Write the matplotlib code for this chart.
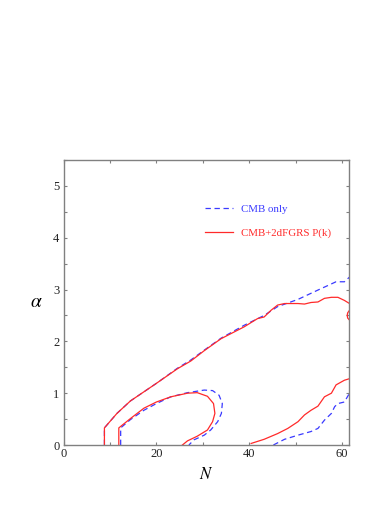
import matplotlib
matplotlib.use("Agg")
import matplotlib.pyplot as plt
from matplotlib.ticker import MultipleLocator

plt.rcParams["font.family"] = ["Liberation Serif", "DejaVu Serif"]
plt.rcParams["mathtext.fontset"] = "stix"

# CMB only (blue dashed)
cmb_outer_n = [8.8, 8.8, 11.5, 14.4, 20.0, 24.5, 27.4, 30.3, 33.9, 38.9, 43.2, 46.1,
               50.5, 54.8, 57.0, 58.7, 60.5, 61.6]
cmb_outer_a = [0.0, 0.33, 0.61, 0.85, 1.19, 1.48, 1.64, 1.83, 2.06, 2.31, 2.50, 2.67,
               2.81, 2.99, 3.08, 3.15, 3.15, 3.24]
cmb_inner_n = [12.3, 12.3, 14.4, 17.3, 20.0, 23.1, 26.7, 30.3, 32.1, 33.5, 34.2, 34.0,
               33.2, 31.7, 30.3, 28.1, 27.0]
cmb_inner_a = [0.0, 0.33, 0.49, 0.67, 0.80, 0.93, 1.01, 1.06, 1.05, 0.96, 0.80, 0.61,
               0.45, 0.29, 0.19, 0.10, 0.0]
cmb_low_n = [45.2, 47.6, 50.5, 53.3, 54.8, 56.2, 57.7, 58.4, 59.1, 60.5, 61.6]
cmb_low_a = [0.0, 0.11, 0.19, 0.26, 0.32, 0.48, 0.61, 0.74, 0.80, 0.83, 1.0]

# CMB + 2dFGRS P(k) (red solid)
pk_outer_n = [8.8, 8.8, 11.5, 14.4, 20.0, 24.5, 27.4, 30.3, 33.9, 38.9, 41.8, 43.2,
              44.7, 46.1, 47.6, 50.5, 51.9, 53.3, 54.8, 56.2, 57.7, 59.1, 60.5, 61.6]
pk_outer_a = [0.0, 0.33, 0.61, 0.85, 1.19, 1.47, 1.62, 1.82, 2.05, 2.28, 2.44, 2.47,
              2.60, 2.70, 2.73, 2.73, 2.72, 2.75, 2.76, 2.83, 2.85, 2.85, 2.79, 2.73]
pk_inner_n = [11.9, 11.9, 14.4, 17.3, 20.0, 23.1, 26.7, 28.8, 31.0, 32.3, 32.6, 32.1,
              31.0, 28.8, 26.7, 25.6]
pk_inner_a = [0.0, 0.33, 0.51, 0.71, 0.83, 0.93, 1.0, 1.01, 0.94, 0.80, 0.61, 0.45,
              0.29, 0.17, 0.08, 0.0]
pk_low_n = [40.4, 43.2, 46.1, 48.3, 50.5, 51.9, 53.3, 54.8, 56.2, 57.7, 58.7, 60.5, 61.6]
pk_low_a = [0.03, 0.11, 0.22, 0.32, 0.45, 0.58, 0.67, 0.75, 0.93, 1.0, 1.16, 1.25, 1.28]
pk_arc_n = [61.6, 61.2, 61.1, 61.2, 61.6]
pk_arc_a = [2.60, 2.55, 2.50, 2.45, 2.41]

blue = "#3a3aff"
red = "#ff2a2a"
grey = "#808080"

fig = plt.figure(figsize=(3.9, 5.05), dpi=100)
ax = fig.add_axes([0.163, 0.1188, 0.732, 0.5644])

dash = (4.3, 2.9)
ax.plot(cmb_outer_n, cmb_outer_a, color=blue, lw=0.9, dashes=dash, label="CMB only")
ax.plot(cmb_inner_n, cmb_inner_a, color=blue, lw=0.9, dashes=dash)
ax.plot(cmb_low_n, cmb_low_a, color=blue, lw=0.9, dashes=dash)
ax.plot(pk_outer_n, pk_outer_a, color=red, lw=0.9, label="CMB+2dFGRS P(k)")
ax.plot(pk_inner_n, pk_inner_a, color=red, lw=0.9)
ax.plot(pk_low_n, pk_low_a, color=red, lw=0.9)
ax.plot(pk_arc_n, pk_arc_a, color=red, lw=0.9)

ax.set_xlim(0, 61.5)
ax.set_ylim(0, 5.5)
ax.xaxis.set_major_locator(MultipleLocator(20))
ax.xaxis.set_minor_locator(MultipleLocator(10))
ax.yaxis.set_major_locator(MultipleLocator(1))
ax.yaxis.set_minor_locator(MultipleLocator(0.5))
ax.tick_params(which="both", direction="in", top=True, right=True, length=2,
               width=0.8, color=grey, labelsize=9, labelcolor="#222222")
ax.tick_params(axis="x", pad=2)
ax.tick_params(axis="y", pad=3)
for sp in ax.spines.values():
    sp.set_color(grey)
    sp.set_linewidth(1.0)

ax.set_xlabel(r"$N$", fontsize=12, labelpad=5)
ax.set_ylabel(r"$\alpha$", fontsize=14, rotation=0, labelpad=12, va="center")

leg = ax.legend(loc="upper left", bbox_to_anchor=(0.497, 0.845), frameon=False,
                fontsize=7.8, handlelength=2.5, handletextpad=0.8,
                labelspacing=1.35, borderpad=0, borderaxespad=0)
for txt, c in zip(leg.get_texts(), [blue, red]):
    txt.set_color(c)

fig.savefig("out.png", dpi=100)
